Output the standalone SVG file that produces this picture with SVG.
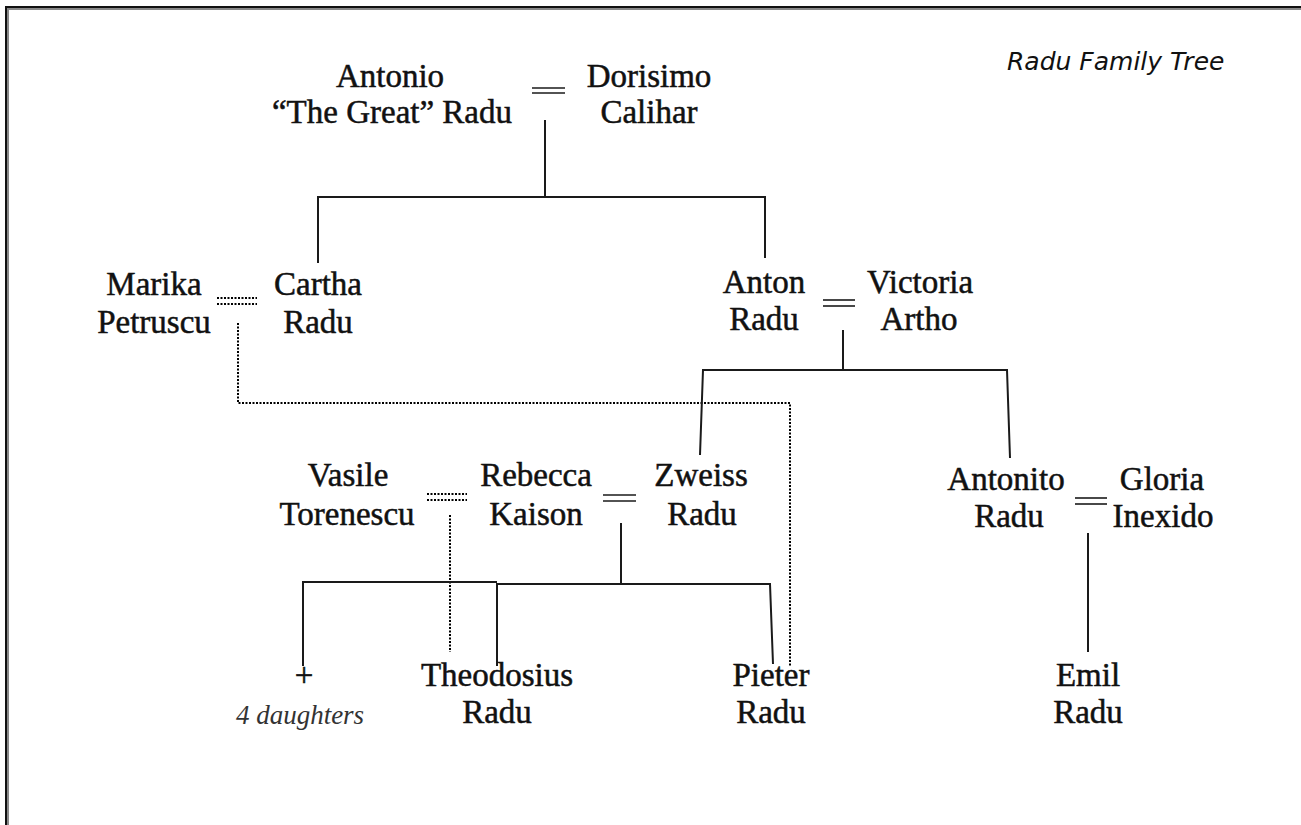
<svg xmlns="http://www.w3.org/2000/svg" width="1301" height="825" viewBox="0 0 1301 825">
<style>
  .n { font-family: "Liberation Serif", "Times New Roman", serif; font-size: 33px; fill: #111; stroke: #111; stroke-width: 0.5; text-anchor: middle; }
  .it { font-family: "Liberation Serif", "Times New Roman", serif; font-size: 27px; font-style: italic; fill: #333; text-anchor: middle; }
  .title { font-family: "DejaVu Sans", sans-serif; font-size: 25px; font-style: italic; fill: #111; }
  .ln { stroke: #1a1a1a; stroke-width: 2; fill: none; }
  .eq { stroke: #1a1a1a; stroke-width: 1.6; fill: none; }
  .dot { stroke: #000; stroke-width: 2; fill: none; stroke-dasharray: 2 1.5; }
  .deq { stroke: #000; stroke-width: 2; fill: none; stroke-dasharray: 2 1.5; }
</style>
<rect x="0" y="0" width="1301" height="825" fill="#fff"/>
<g id="frame">
  <rect x="5" y="6" width="1296" height="2" fill="#111"/>
  <rect x="7" y="8" width="1294" height="2" fill="#888"/>
  <rect x="5" y="6" width="2" height="819" fill="#111"/>
  <rect x="7" y="8" width="2" height="817" fill="#888"/>
</g>
<text class="title" x="1007" y="70">Radu Family Tree</text>
<g id="connectors">
  <line class="eq" x1="532" y1="88" x2="565" y2="88"/>
  <line class="eq" x1="532" y1="93" x2="565" y2="93"/>
  <polyline class="ln" points="545,120 545,197"/>
  <polyline class="ln" points="318,263 318,197 765,197 765,258"/>
  <line class="deq" x1="217" y1="298" x2="257" y2="298"/>
  <line class="deq" x1="217" y1="304" x2="257" y2="304"/>
  <polyline class="dot" points="238,323 238,403 790,403 790,667"/>
  <line class="eq" x1="823" y1="300" x2="855" y2="300"/>
  <line class="eq" x1="823" y1="306" x2="855" y2="306"/>
  <polyline class="ln" points="843,330 843,370"/>
  <polyline class="ln" points="700,455 703,370 1007,370 1010,458"/>
  <line class="deq" x1="427" y1="494" x2="467" y2="494"/>
  <line class="deq" x1="427" y1="500" x2="467" y2="500"/>
  <polyline class="dot" points="450,515 450,652"/>
  <line class="eq" x1="603" y1="495" x2="636" y2="495"/>
  <line class="eq" x1="603" y1="501" x2="636" y2="501"/>
  <polyline class="ln" points="621,523 621,583"/>
  <polyline class="ln" points="303,666 303,582 497,582"/>
  <polyline class="ln" points="497,666 497,584 770,584 773,664"/>
  <line class="eq" x1="1075" y1="498" x2="1107" y2="498"/>
  <line class="eq" x1="1075" y1="504" x2="1107" y2="504"/>
  <polyline class="ln" points="1088,533 1088,652"/>
</g>
<g id="antonio"><text class="n" x="390" y="87">Antonio</text><text class="n" x="392" y="123">“The Great” Radu</text></g>
<g id="dorisimo"><text class="n" x="649" y="87">Dorisimo</text><text class="n" x="649" y="123">Calihar</text></g>
<g id="marika"><text class="n" x="154" y="295">Marika</text><text class="n" x="154" y="333">Petruscu</text></g>
<g id="cartha"><text class="n" x="318" y="295">Cartha</text><text class="n" x="318" y="333">Radu</text></g>
<g id="anton"><text class="n" x="764" y="293">Anton</text><text class="n" x="764" y="330">Radu</text></g>
<g id="victoria"><text class="n" x="920" y="293">Victoria</text><text class="n" x="919" y="330">Artho</text></g>
<g id="vasile"><text class="n" x="348" y="486">Vasile</text><text class="n" x="347" y="525">Torenescu</text></g>
<g id="rebecca"><text class="n" x="536" y="486">Rebecca</text><text class="n" x="536" y="525">Kaison</text></g>
<g id="zweiss"><text class="n" x="701" y="486">Zweiss</text><text class="n" x="702" y="525">Radu</text></g>
<g id="antonito"><text class="n" x="1006" y="490">Antonito</text><text class="n" x="1009" y="527">Radu</text></g>
<g id="gloria"><text class="n" x="1162" y="490">Gloria</text><text class="n" x="1163" y="527">Inexido</text></g>
<g id="daughters"><text class="n" x="304" y="686">+</text><text class="it" x="300" y="724">4 daughters</text></g>
<g id="theodosius"><text class="n" x="497" y="686">Theodosius</text><text class="n" x="497" y="723">Radu</text></g>
<g id="pieter"><text class="n" x="771" y="686">Pieter</text><text class="n" x="771" y="723">Radu</text></g>
<g id="emil"><text class="n" x="1088" y="686">Emil</text><text class="n" x="1088" y="723">Radu</text></g>
</svg>
